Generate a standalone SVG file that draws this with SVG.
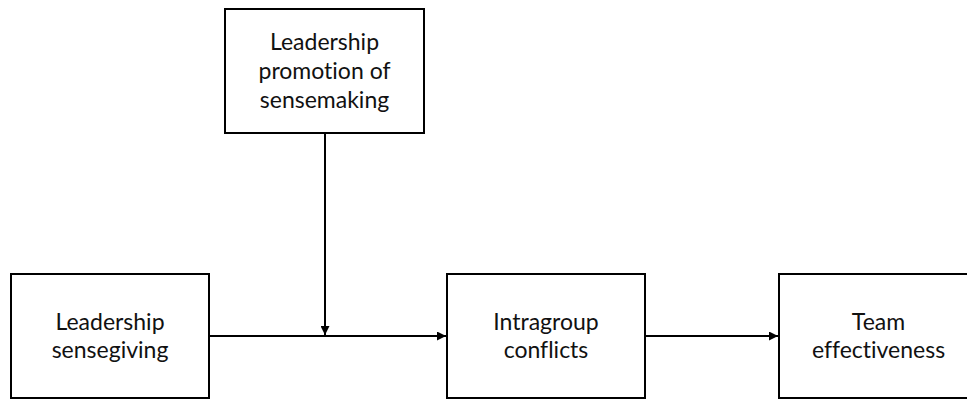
<svg xmlns="http://www.w3.org/2000/svg" width="967" height="401" viewBox="0 0 967 401">
<defs>
<style>
.box{fill:#fff;stroke:#000;stroke-width:2}
.t{font-family:Lato,"Open Sans",sans-serif;font-size:23px;fill:#111;text-anchor:middle;font-variant-ligatures:none;font-feature-settings:"liga" 0}
.c{stroke:#000;stroke-width:2;fill:none}
</style>
<marker id="ah" viewBox="0 0 10 10" refX="10" refY="5" markerWidth="4.5" markerHeight="4.5" orient="auto" markerUnits="strokeWidth">
<path d="M0,0 L10,5 L0,10 z" fill="#000"/>
</marker>
</defs>
<rect width="967" height="401" fill="#fff"/>
<g id="connectors">
<line class="c" x1="325" y1="133" x2="325" y2="335" marker-end="url(#ah)"/>
<line class="c" x1="209" y1="336" x2="446" y2="336" marker-end="url(#ah)"/>
<line class="c" x1="645" y1="336" x2="778" y2="336" marker-end="url(#ah)"/>
</g>
<g id="node-promotion">
<rect class="box" x="225" y="9" width="199" height="124"/>
<text class="t" x="324.5" y="50">Leadership</text>
<text class="t" x="324.5" y="79">promotion of</text>
<text class="t" x="324.5" y="108">sensemaking</text>
</g>
<g id="node-sensegiving">
<rect class="box" x="11" y="274" width="198" height="124"/>
<text class="t" x="110" y="330">Leadership</text>
<text class="t" x="110" y="358">sensegiving</text>
</g>
<g id="node-conflicts">
<rect class="box" x="447" y="274" width="198" height="124"/>
<text class="t" x="546" y="330">Intragroup</text>
<text class="t" x="546" y="358">conflicts</text>
</g>
<g id="node-effectiveness">
<rect class="box" x="779" y="274" width="199" height="124"/>
<text class="t" x="878.5" y="330">Team</text>
<text class="t" x="878.5" y="358">effectiveness</text>
</g>
</svg>
